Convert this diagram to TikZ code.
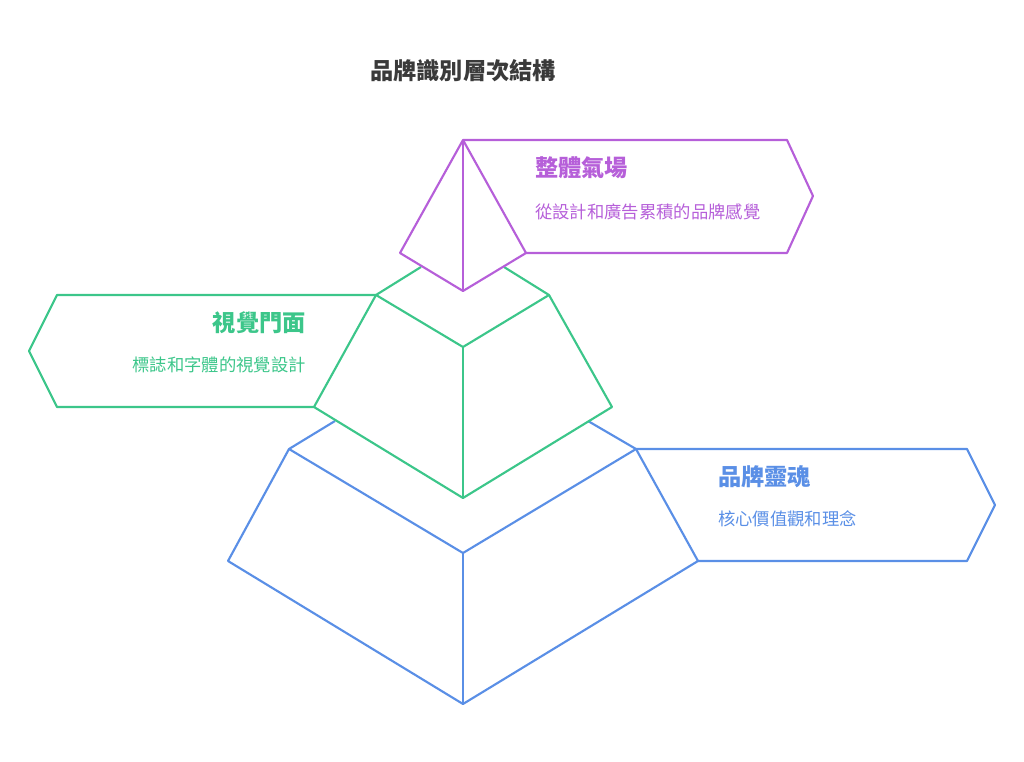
\documentclass[tikz,border=0pt]{standalone}
\usepackage{fontspec}
\setmainfont{Noto Sans CJK TC}
\definecolor{soulblue}{HTML}{5A8FE6}
\definecolor{facegreen}{HTML}{3CC68A}
\definecolor{auramauve}{HTML}{B65FD9}
\definecolor{titlegray}{HTML}{3A3A3A}
\tikzset{
  edge/.style={line width=1.6pt, line join=round},
  head/.style={font=\bfseries\fontsize{17.4}{20}\selectfont, inner sep=0pt},
  note/.style={font=\fontsize{13}{16}\selectfont, inner sep=0pt},
}
\begin{document}
\begin{tikzpicture}[x=0.75pt,y=-0.75pt]
  \useasboundingbox (0,0) rectangle (1024,762);

  % Title
  \node[head, text=titlegray] (title) at (463,71) {品牌識別層次結構};

  % Blue tier
  \coordinate (bl) at (289,449);
  \coordinate (br) at (636,449);
  \coordinate (bf) at (463,553);
  \coordinate (bll) at (228,561);
  \coordinate (brr) at (698,561);
  \coordinate (bb) at (463,704);
  \draw[edge, soulblue] (335,421) -- (bl) -- (bf) -- (br) -- (588,421);
  \draw[edge, soulblue] (bl) -- (bll) -- (bb) -- (brr) -- (br);
  \draw[edge, soulblue] (bf) -- (bb);
  \draw[edge, soulblue] (br) -- (967,449) -- (995,505) -- (967,561) -- (brr);
  \node[head, text=soulblue, anchor=west] (soul) at (718,477) {品牌靈魂};
  \node[note, text=soulblue, anchor=west] (souldesc) at (718,519) {核心價值觀和理念};

  % Green tier
  \coordinate (gl) at (376,295);
  \coordinate (gr) at (549,295);
  \coordinate (gf) at (463,347);
  \coordinate (gll) at (314,407);
  \coordinate (grr) at (612,407);
  \coordinate (gb) at (463,498);
  \draw[edge, facegreen] (421,267) -- (gl) -- (gf) -- (gr) -- (504,267);
  \draw[edge, facegreen] (gl) -- (gll) -- (gb) -- (grr) -- (gr);
  \draw[edge, facegreen] (gf) -- (gb);
  \draw[edge, facegreen] (gl) -- (57,295) -- (29,351) -- (57,407) -- (gll);
  \node[head, text=facegreen, anchor=east] (face) at (306,323) {視覺門面};
  \node[note, text=facegreen, anchor=east] (facedesc) at (306,365) {標誌和字體的視覺設計};

  % Purple tier
  \coordinate (pt) at (463,140);
  \coordinate (pl) at (400,253);
  \coordinate (pr) at (526,253);
  \coordinate (pf) at (463,291);
  \draw[edge, auramauve] (pt) -- (pl) -- (pf) -- (pr) -- cycle;
  \draw[edge, auramauve] (pt) -- (pf);
  \draw[edge, auramauve] (pt) -- (787,140) -- (813,196) -- (787,253) -- (pr);
  \node[head, text=auramauve, anchor=west] (aura) at (535,168) {整體氣場};
  \node[note, text=auramauve, anchor=west] (auradesc) at (535,212) {從設計和廣告累積的品牌感覺};
\end{tikzpicture}
\end{document}
